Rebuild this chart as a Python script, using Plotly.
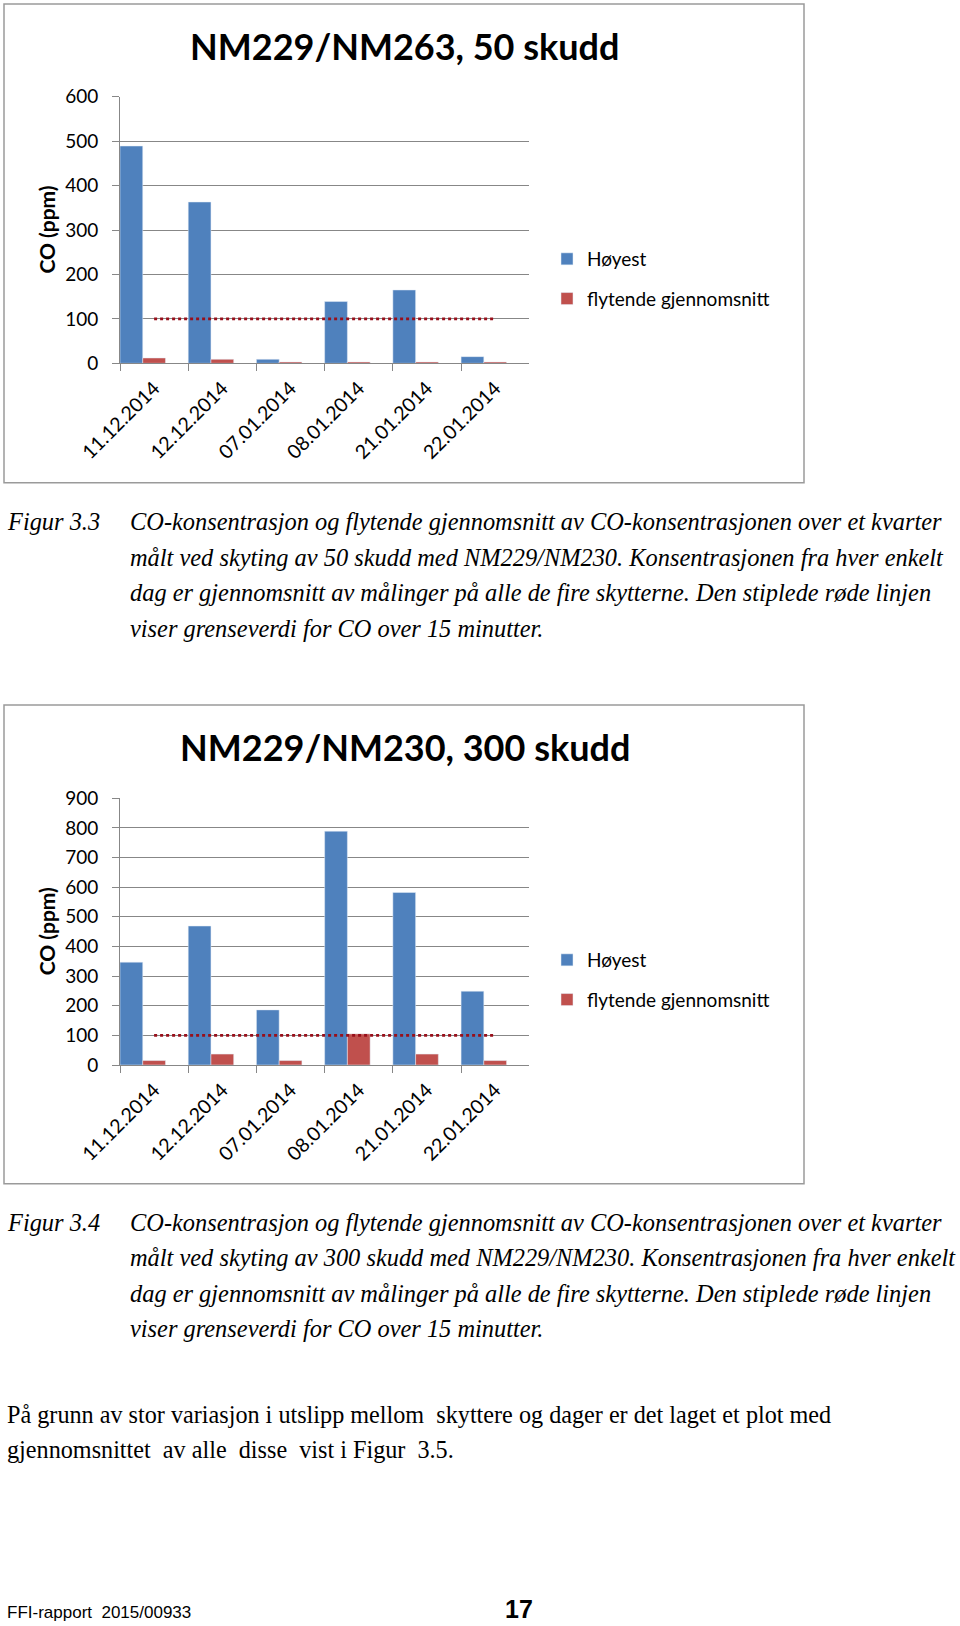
import plotly.graph_objects as go

W, H = 960, 1626

dates = ["11.12.2014", "12.12.2014", "07.01.2014", "08.01.2014", "21.01.2014", "22.01.2014"]

# Chart 1: NM229/NM263, 50 skudd
c1_hoyest = [489, 363, 9, 139, 165, 15]
c1_flyt = [12, 9, 3, 3, 3, 3]
# Chart 2: NM229/NM230, 300 skudd
c2_hoyest = [347, 469, 186, 789, 582, 249]
c2_flyt = [15, 37, 15, 105, 37, 15]
limit_co = 100  # grenseverdi CO 15 min

y1_ticks = [0, 100, 200, 300, 400, 500, 600]
y2_ticks = [0, 100, 200, 300, 400, 500, 600, 700, 800, 900]

title1 = "NM229/NM263, 50 skudd"
title2 = "NM229/NM230, 300 skudd"
ytitle = "CO (ppm)"
series_names = ["Høyest", "flytende gjennomsnitt"]

cap1 = ["CO-konsentrasjon og flytende gjennomsnitt av CO-konsentrasjonen over et kvarter",
        "målt ved skyting av 50 skudd med NM229/NM230. Konsentrasjonen fra hver enkelt",
        "dag er gjennomsnitt av målinger på alle de fire skytterne. Den stiplede røde linjen",
        "viser grenseverdi for CO over 15 minutter."]
cap2 = ["CO-konsentrasjon og flytende gjennomsnitt av CO-konsentrasjonen over et kvarter",
        "målt ved skyting av 300 skudd med NM229/NM230. Konsentrasjonen fra hver enkelt",
        "dag er gjennomsnitt av målinger på alle de fire skytterne. Den stiplede røde linjen",
        "viser grenseverdi for CO over 15 minutter."]
para = ["På grunn av stor variasjon i utslipp mellom  skyttere og dager er det laget et plot med",
        "gjennomsnittet  av alle  disse  vist i Figur  3.5."]

BLUE = "#4F81BD"
RED = "#C0504D"
LIMC = "#980F1A"
GRID = "#878787"

def px(x):
    return x / W

def py(y):
    return 1 - y / H

fig = go.Figure()

def add_chart(hoy, flyt, xa, ya, legend):
    fig.add_trace(go.Bar(x=dates, y=hoy, name=series_names[0], marker_color=BLUE,
                         width=1/3, offset=-0.5, xaxis=xa, yaxis=ya, legend=legend,
                         legendgroup=legend + "a"))
    fig.add_trace(go.Bar(x=dates, y=flyt, name=series_names[1], marker_color=RED,
                         width=1/3, offset=-0.5 + 1/3, xaxis=xa, yaxis=ya, legend=legend,
                         legendgroup=legend + "b"))
    fig.add_trace(go.Scatter(x=dates, y=[limit_co] * len(dates), mode="lines",
                             line=dict(color=LIMC, width=2.6, dash="dot"),
                             showlegend=False, xaxis=xa, yaxis=ya, hoverinfo="skip"))

add_chart(c1_hoyest, c1_flyt, "x", "y", "legend")
add_chart(c2_hoyest, c2_flyt, "x2", "y2", "legend2")

axis_font = dict(family="Lato", size=19, color="#000000")
xcommon = dict(type="category", range=[-0.5, 5.5], showline=True, linecolor=GRID, linewidth=1,
               ticks="outside", ticklen=7, tickcolor=GRID, tickson="boundaries",
               tickangle=-45, tickfont=dict(family="Lato", size=19.5, color="#000000"),
               showgrid=False, zeroline=False, automargin=False, ticklabelstandoff=5)
ycommon = dict(showline=True, linecolor=GRID, linewidth=1, ticks="outside", ticklen=7,
               tickcolor=GRID, showgrid=True, gridcolor=GRID, gridwidth=1,
               tickfont=axis_font, zeroline=False, ticklabelstandoff=10, automargin=False)

legend_common = dict(xanchor="left", yanchor="top",
                     font=dict(family="Lato", size=19, color="#000"),
                     tracegroupgap=12, traceorder="grouped", bgcolor="rgba(0,0,0,0)")

xd = [px(120), px(529.3)]
fig.update_layout(
    width=W, height=H,
    margin=dict(l=0, r=0, t=0, b=0, autoexpand=False),
    paper_bgcolor="white", plot_bgcolor="white",
    barmode="overlay",
    showlegend=True,
    xaxis=dict(domain=xd, anchor="y", **xcommon),
    yaxis=dict(domain=[py(363.3), py(96.7)], anchor="x", range=[0, 600],
               tickvals=y1_ticks, **ycommon),
    xaxis2=dict(domain=xd, anchor="y2", **xcommon),
    yaxis2=dict(domain=[py(1065), py(798.3)], anchor="x2", range=[0, 900],
                tickvals=y2_ticks, **ycommon),
    legend=dict(x=px(547), y=py(240), **legend_common),
    legend2=dict(x=px(547), y=py(941), **legend_common),
)

shapes = []
for top, bot in [(4, 482.7), (705, 1183.7)]:
    shapes.append(dict(type="rect", xref="paper", yref="paper",
                       x0=px(4), x1=px(804), y0=py(bot), y1=py(top),
                       line=dict(color="#9A9A9A", width=1.5), layer="below"))
fig.update_layout(shapes=shapes)

ann = []
# chart titles
for t, yc in [(title1, 46), (title2, 746.5)]:
    ann.append(dict(text="<b>" + t + "</b>", x=px(404.5), y=py(yc), xref="paper", yref="paper",
                    xanchor="center", yanchor="middle", showarrow=False,
                    font=dict(family="Lato", size=36, color="#000")))
# y axis titles
for yc in [230, 931.7]:
    ann.append(dict(text="<b>" + ytitle + "</b>", x=px(46.6), y=py(yc), xref="paper", yref="paper",
                    xanchor="center", yanchor="middle", showarrow=False, textangle=-90,
                    font=dict(family="Lato", size=21, color="#000")))

cap_font = dict(family="Liberation Serif", size=24.4, color="#000", style="italic")
for label, lines, y0 in [("Figur 3.3", cap1, 521.5), ("Figur 3.4", cap2, 1222)]:
    ann.append(dict(text=label, x=px(5), y=py(y0), xref="paper", yref="paper",
                    xanchor="left", yanchor="middle", showarrow=False, font=cap_font))
    for i, line in enumerate(lines):
        ann.append(dict(text=line, x=px(128), y=py(y0 + i * 35.6), xref="paper", yref="paper",
                        xanchor="left", yanchor="middle", showarrow=False, font=cap_font))

para_font = dict(family="Liberation Serif", size=24.2, color="#000")
for i, line in enumerate(para):
    ann.append(dict(text=line.replace("  ", "&nbsp; "), x=px(5), y=py(1414 + i * 35.5), xref="paper", yref="paper",
                    xanchor="left", yanchor="middle", showarrow=False, font=para_font))

ann.append(dict(text="FFI-rapport&nbsp; 2015/00933", x=px(5), y=py(1612), xref="paper", yref="paper",
                xanchor="left", yanchor="middle", showarrow=False,
                font=dict(family="Liberation Sans Narrow, Liberation Sans", size=17, color="#000")))
ann.append(dict(text="<b>17</b>", x=px(518.5), y=py(1609), xref="paper", yref="paper",
                xanchor="center", yanchor="middle", showarrow=False,
                font=dict(family="Liberation Sans Narrow, Liberation Sans", size=25, color="#000")))

fig.update_layout(annotations=ann)

fig.write_html("out.html")
